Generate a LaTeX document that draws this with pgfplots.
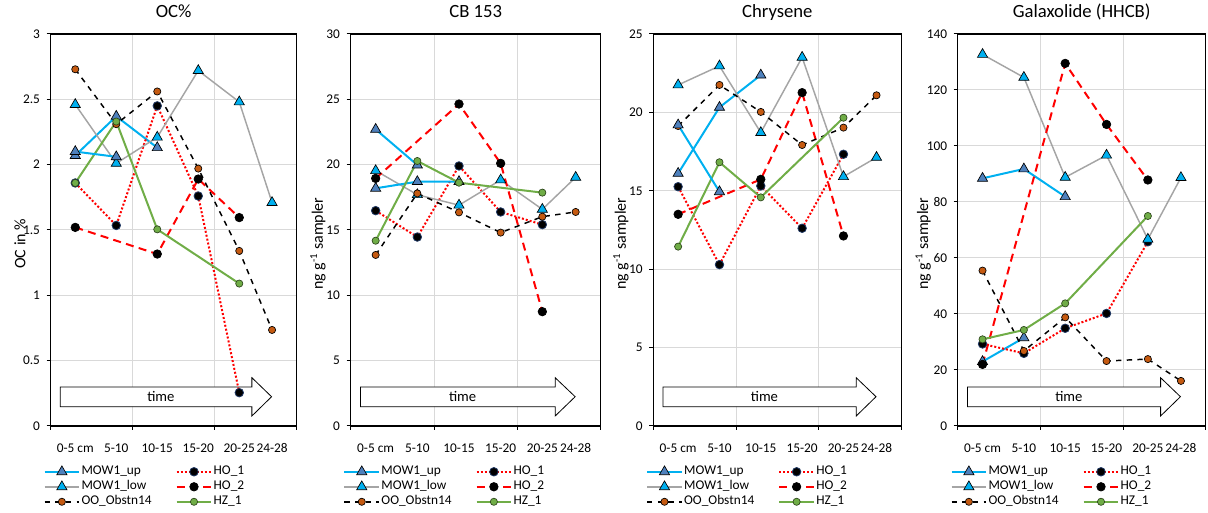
\documentclass[border=0pt]{standalone}
\usepackage{fontspec}
\setmainfont{Carlito}
\usepackage{pgfplots}
\pgfplotsset{compat=1.18}
\definecolor{cCyan}{HTML}{00B0F0}
\definecolor{cSteel}{HTML}{4F81BD}
\definecolor{cGrey}{HTML}{A5A5A5}
\definecolor{cRed}{HTML}{FF0000}
\definecolor{cOrange}{HTML}{C55A11}
\definecolor{cGreen}{HTML}{70AD47}
\definecolor{cGrid}{HTML}{D9D9D9}
\definecolor{cNavy}{HTML}{1F3864}
\pgfplotsset{
  legend image code/.code={\draw[mark repeat=2,mark phase=2,#1] plot coordinates {(0pt,0pt) (13pt,0pt) (26pt,0pt)};},
  sMOWup/.style={color=cCyan, line width=1.5pt, mark=triangle*, mark size=4.4pt, mark options={solid, fill=cSteel, draw=black, line width=0.5pt}},
  sMOWlow/.style={color=cGrey, line width=1.1pt, mark=triangle*, mark size=4.4pt, mark options={solid, fill=cCyan, draw=black, line width=0.5pt}},
  sOO/.style={color=black, line width=1.1pt, dash pattern=on 4pt off 4pt, mark=*, mark size=2.7pt, mark options={solid, fill=cOrange, draw=black, line width=0.5pt}},
  sHOa/.style={color=cRed, line width=1.5pt, dash pattern=on 1.5pt off 1.5pt, mark=*, mark size=3.2pt, mark options={solid, fill=black, draw=cNavy, line width=0.6pt}},
  sHOb/.style={color=cRed, line width=1.5pt, dash pattern=on 6pt off 4pt, mark=*, mark size=3.2pt, mark options={solid, fill=black, draw=black, line width=0.5pt}},
  sHZ/.style={color=cGreen, line width=1.5pt, mark=*, mark size=2.7pt, mark options={solid, fill=cGreen, draw=black!60!cGreen, line width=0.5pt}},
  panel/.style={
    scale only axis, height=294pt, anchor=south west,
    xmin=0, xmax=30, xtick={0,10,20,30}, xticklabels={,,,},
    extra x ticks={3,8,13,18,23,27},
    extra x tick labels={0-5 cm,5-10,10-15,15-20,20-25,24-28},
    extra x tick style={grid=none, major tick length=0pt, xticklabel style={anchor=base, yshift=-19.8pt}},
    ymin=0,
    xmajorgrids, ymajorgrids,
    major grid style={cGrid, line width=0.75pt},
    axis line style={black, line width=0.8pt},
    tick style={black, line width=0.75pt},
    tick align=outside, major tick length=3pt, tick pos=left,
    tick label style={font=\fontsize{10}{12}\selectfont},
    yticklabel style={xshift=-1.5pt},
    /pgf/number format/assume math mode=true,
    title style={at={(0.5,1)}, anchor=base, yshift=6.2pt, font=\fontsize{14}{16}\selectfont},
    ylabel style={anchor=center, font=\fontsize{12}{14}\selectfont},
    legend columns=2, legend cell align=left,
    legend style={at={(axis description cs:-0.03,-0.097)}, anchor=north west, draw=none, fill=none,
      font=\fontsize{10}{12}\selectfont, inner sep=0pt, row sep=0pt,
      nodes={inner sep=1pt, text height=7pt, text depth=2.25pt},
      /tikz/every even column/.append style={column sep=17pt}},
  }
}
\newcommand{\timearrow}{%
  \draw[fill=white, draw=black, line width=0.6pt] (axis description cs:0.039,0.0493) -- (axis description cs:0.818,0.0493) -- (axis description cs:0.818,0.0255) -- (axis description cs:0.898,0.0747) -- (axis description cs:0.818,0.1232) -- (axis description cs:0.818,0.0995) -- (axis description cs:0.039,0.0995) -- cycle;
  \node[font=\fontsize{11}{13}\selectfont] at (axis description cs:0.448,0.0747) {time};}
\begin{document}
\begin{tikzpicture}
\useasboundingbox (0,0) rectangle (906pt,384.75pt);
% ---------- OC% ----------
\begin{axis}[panel, at={(38pt,65.25pt)}, width=184.5pt, ymax=3, ytick distance=0.5,
  title={OC\%}, ylabel={OC in \%}, ylabel style={at={(axis description cs:-0.125,0.465)}}]
\timearrow
\addplot[sMOWup] coordinates {(3,2.07) (8,2.37) (13,2.13)}; \addlegendentry{MOW1\_up}
\addplot[sHOa] coordinates {(3,1.86) (8,1.535) (13,2.45) (18,1.76) (23,0.255)}; \addlegendentry{HO\_1}
\addplot[sMOWlow] coordinates {(3,2.46) (8,2.01) (13,2.21) (18,2.72) (23,2.48) (27,1.71)}; \addlegendentry{MOW1\_low}
\addplot[sHOb] coordinates {(3,1.52) (13,1.316) (18,1.89) (23,1.595)}; \addlegendentry{HO\_2}
\addplot[sOO] coordinates {(3,2.73) (8,2.31) (13,2.56) (18,1.97) (23,1.34) (27,0.735)}; \addlegendentry{OO\_Obstn14}
\addplot[sHZ] coordinates {(3,1.86) (8,2.33) (13,1.505) (23,1.09)}; \addlegendentry{HZ\_1}
\addplot[sMOWup, forget plot] coordinates {(3,2.10) (8,2.06)};
\end{axis}
% ---------- CB 153 ----------
\begin{axis}[panel, at={(263pt,65.25pt)}, width=187.5pt, ymax=30, ytick distance=5,
  title={CB 153}, ylabel={ng g\textsuperscript{-1} sampler}, ylabel style={at={(axis description cs:-0.131,0.465)}}]
\timearrow
\addplot[sMOWup] coordinates {(3,22.7) (8,19.97)}; \addlegendentry{MOW1\_up}
\addplot[sHOa] coordinates {(3,16.48) (8,14.46) (13,19.9) (18,16.38) (23,15.41)}; \addlegendentry{HO\_1}
\addplot[sMOWlow] coordinates {(3,19.54) (8,17.7) (13,16.9) (18,18.83) (23,16.58) (27,19.03)}; \addlegendentry{MOW1\_low}
\addplot[sHOb] coordinates {(3,18.95) (13,24.64) (18,20.1) (23,8.75)}; \addlegendentry{HO\_2}
\addplot[sOO] coordinates {(3,13.09) (8,17.8) (13,16.35) (18,14.8) (23,16.02) (27,16.38)}; \addlegendentry{OO\_Obstn14}
\addplot[sMOWup, forget plot] coordinates {(3,18.19) (8,18.7) (13,18.7)};
\addplot[sHZ] coordinates {(3,14.18) (8,20.28) (13,18.62) (23,17.86)}; \addlegendentry{HZ\_1}
\end{axis}
% ---------- Chrysene ----------
\begin{axis}[panel, at={(490pt,65.25pt)}, width=186pt, ymax=25, ytick distance=5,
  title={Chrysene}, ylabel={ng g\textsuperscript{-1} sampler}, ylabel style={at={(axis description cs:-0.131,0.465)}}]
\timearrow
\addplot[sMOWup] coordinates {(3,16.11) (8,20.32) (13,22.38)}; \addlegendentry{MOW1\_up}
\addplot[sHOa] coordinates {(3,15.26) (8,10.29) (13,15.31) (18,12.61) (23,17.33)}; \addlegendentry{HO\_1}
\addplot[sMOWlow] coordinates {(3,21.75) (8,22.96) (13,18.71) (18,23.51) (23,15.9) (27,17.13)}; \addlegendentry{MOW1\_low}
\addplot[sHOb] coordinates {(3,13.5) (13,15.73) (18,21.26) (23,12.12)}; \addlegendentry{HO\_2}
\addplot[sOO] coordinates {(3,19.13) (8,21.75) (13,20.03) (18,17.92) (23,19.03) (27,21.09)}; \addlegendentry{OO\_Obstn14}
\addplot[sHZ] coordinates {(3,11.44) (8,16.82) (13,14.58) (23,19.66)}; \addlegendentry{HZ\_1}
\addplot[sMOWup, forget plot] coordinates {(3,19.2) (8,14.94)};
\end{axis}
% ---------- Galaxolide ----------
\begin{axis}[panel, at={(718.3pt,65.25pt)}, width=186pt, ymax=140, ytick distance=20,
  title={Galaxolide (HHCB)}, ylabel={ng g\textsuperscript{-1} sampler}, ylabel style={at={(axis description cs:-0.139,0.465)}}]
\timearrow
\addplot[sMOWup] coordinates {(3,88.45) (8,91.8) (13,81.9)}; \addlegendentry{MOW1\_up}
\addplot[sMOWup, forget plot] coordinates {(3,23) (8,31.5)};
\addplot[sHOa] coordinates {(3,29.3) (8,25.95) (13,34.9) (18,40.2) (23,65.8)}; \addlegendentry{HO\_1}
\addplot[sMOWlow] coordinates {(3,132.7) (8,124.5) (13,88.8) (18,96.7) (23,66.7) (27,88.7)}; \addlegendentry{MOW1\_low}
\addplot[sHOb] coordinates {(3,22.0) (13,129.5) (18,107.7) (23,87.86)}; \addlegendentry{HO\_2}
\addplot[sOO] coordinates {(3,55.5) (8,26.8) (13,38.8) (18,23.2) (23,23.9) (27,16.1)}; \addlegendentry{OO\_Obstn14}
\addplot[sHZ] coordinates {(3,30.95) (8,34.3) (13,43.8) (23,75.0)}; \addlegendentry{HZ\_1}
\end{axis}
\end{tikzpicture}
\end{document}
